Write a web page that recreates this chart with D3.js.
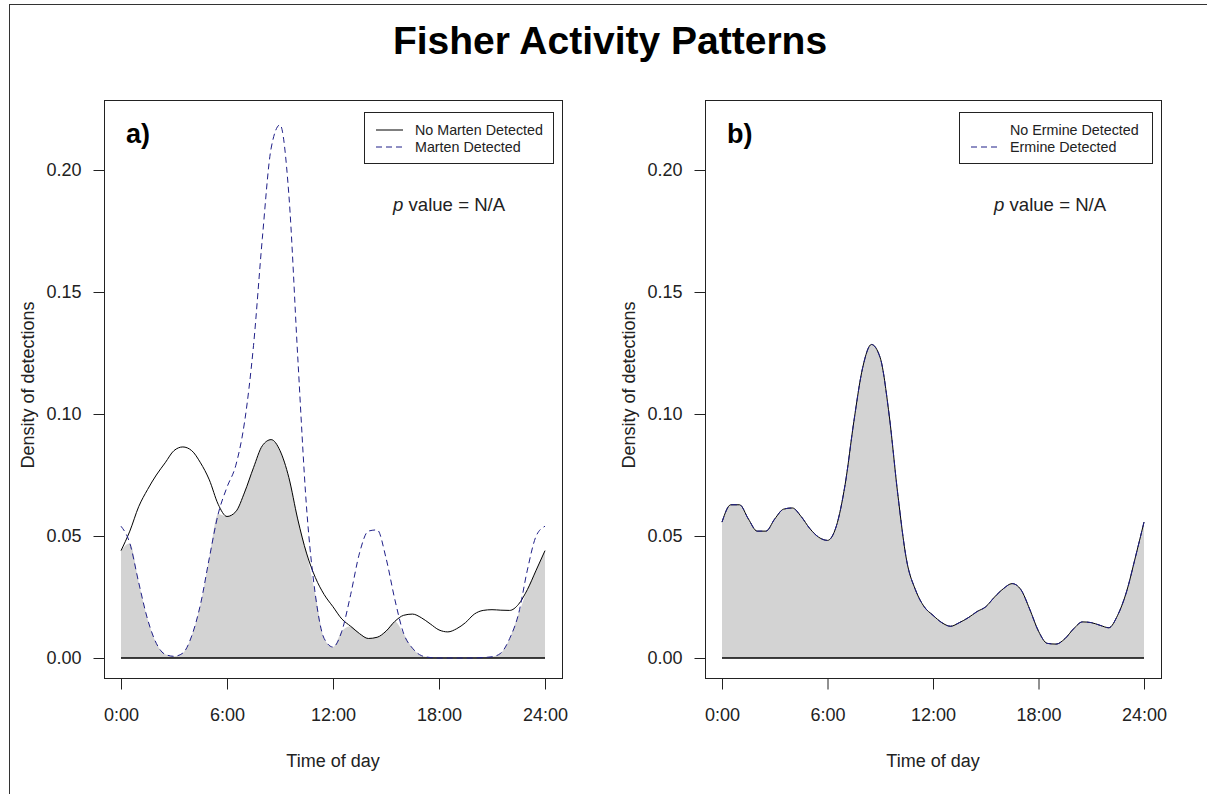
<!DOCTYPE html>
<html>
<head>
<meta charset="utf-8">
<script src="https://cdn.jsdelivr.net/npm/d3@7"></script>
<style>
  html, body { margin: 0; padding: 0; background: #fff; }
  svg { display: block; font-family: "Liberation Sans", Arial, sans-serif; }
</style>
</head>
<body>
<svg id="chart" width="1207" height="794"></svg>
<script>
// ---------- DATA ----------
const hours = d3.range(0, 24.01, 0.5);   // sample hours 0:00 .. 24:00 every 30 min
const noMarten = [0.044,0.052,0.062,0.069,0.075,0.080,0.085,0.0865,0.085,0.080,0.073,0.063,0.058,0.060,0.068,0.078,0.087,0.0895,0.085,0.074,0.057,0.043,0.033,0.026,0.021,0.016,0.013,0.010,0.008,0.0085,0.011,0.015,0.0175,0.018,0.0165,0.014,0.0115,0.0107,0.012,0.0145,0.018,0.0195,0.0198,0.0196,0.0195,0.022,0.028,0.036,0.044];
const marten = [0.054,0.047,0.031,0.016,0.006,0.0015,0.0007,0.002,0.009,0.022,0.041,0.059,0.070,0.079,0.097,0.128,0.172,0.209,0.2185,0.190,0.124,0.062,0.026,0.008,0.0045,0.011,0.026,0.043,0.052,0.0525,0.041,0.024,0.010,0.004,0.001,0.0002,0,0,0,0,0,0.0002,0.0005,0.002,0.008,0.018,0.036,0.050,0.054];
const noErmine = [0.0557,0.0628,0.0628,0.057,0.052,0.052,0.057,0.061,0.0615,0.058,0.053,0.0495,0.0482,0.054,0.071,0.097,0.119,0.1285,0.123,0.100,0.067,0.040,0.028,0.021,0.0175,0.0145,0.013,0.0145,0.0165,0.019,0.021,0.025,0.0284,0.0305,0.028,0.020,0.011,0.006,0.0057,0.0079,0.012,0.0148,0.0145,0.0134,0.0124,0.0175,0.027,0.041,0.0557];
const ermine = noErmine.slice(); // identical curve in panel b
const xTicks = [0, 6, 12, 18, 24];
const xTickLabels = ["0:00", "6:00", "12:00", "18:00", "24:00"];
const yTicks = [0, 0.05, 0.10, 0.15, 0.20];

// ---------- LAYOUT ----------
const svg = d3.select("#chart");
const FONT = "'Liberation Sans', Arial, sans-serif";
const DASH_COL = "#1f1f88";
const DASH = "6,4";

// outer frame
svg.append("rect").attr("x", 9.5).attr("y", 4.5).attr("width", 1220).attr("height", 820)
  .attr("fill", "none").attr("stroke", "#333").attr("stroke-width", 1);

svg.append("text").attr("x", 610).attr("y", 54).attr("text-anchor", "middle")
  .attr("font-family", FONT).attr("font-weight", "bold").attr("font-size", 39)
  .text("Fisher Activity Patterns");

const panels = [
  { box: [104, 562], xr: [121, 545], label: "a)", a: noMarten, b: marten,
    legend: ["No Marten Detected", "Marten Detected"], solidInLegend: true, lx: 364, ytx: 34 },
  { box: [705, 1161], xr: [722, 1144], label: "b)", a: noErmine, b: ermine,
    legend: ["No Ermine Detected", "Ermine Detected"], solidInLegend: false, lx: 959, ytx: 635 }
];

const boxTop = 100, boxBot = 678;

panels.forEach(p => {
  const g = svg.append("g");
  const x = d3.scaleLinear().domain([0, 24]).range(p.xr);
  const y = d3.scaleLinear().domain([0, 0.2]).range([658, 170]);

  const pts = hours.map((h, i) => ({ h, a: p.a[i], b: p.b[i], m: Math.min(p.a[i], p.b[i]) }));

  // overlap fill
  g.append("path").datum(pts)
    .attr("fill", "#d3d3d3").attr("stroke", "none")
    .attr("d", d3.area().curve(d3.curveMonotoneX).x(d => x(d.h)).y0(y(0)).y1(d => y(d.m)));

  // baseline
  g.append("line").attr("x1", x(0)).attr("x2", x(24)).attr("y1", y(0)).attr("y2", y(0))
    .attr("stroke", "#000").attr("stroke-width", 1.5);

  // solid line (no detection)
  g.append("path").datum(pts).attr("fill", "none").attr("stroke", "#000").attr("stroke-width", 1)
    .attr("d", d3.line().curve(d3.curveMonotoneX).x(d => x(d.h)).y(d => y(d.a)));
  // dashed line (detection)
  g.append("path").datum(pts).attr("fill", "none").attr("stroke", DASH_COL).attr("stroke-width", 1)
    .attr("stroke-dasharray", DASH)
    .attr("d", d3.line().curve(d3.curveMonotoneX).x(d => x(d.h)).y(d => y(d.b)));

  // box
  g.append("rect").attr("x", p.box[0] + 0.5).attr("y", boxTop + 0.5)
    .attr("width", p.box[1] - p.box[0]).attr("height", boxBot - boxTop)
    .attr("fill", "none").attr("stroke", "#222").attr("stroke-width", 1);

  // y axis
  const yAxis = d3.axisLeft(y).tickValues(yTicks).tickFormat(d3.format(".2f"))
    .tickSizeInner(11).tickSizeOuter(0).tickPadding(12);
  const ya = g.append("g").attr("transform", `translate(${p.box[0] + 0.5},0)`).call(yAxis);
  ya.select(".domain").remove();
  ya.selectAll("text").attr("font-family", FONT).attr("font-size", 18).attr("fill", "#222");
  ya.selectAll("line").attr("stroke", "#222");

  // x axis
  const xAxis = d3.axisBottom(x).tickValues(xTicks).tickFormat((d, i) => xTickLabels[i])
    .tickSizeInner(11).tickSizeOuter(0).tickPadding(19);
  const xa = g.append("g").attr("transform", `translate(0,${boxBot + 0.5})`).call(xAxis);
  xa.select(".domain").remove();
  xa.selectAll("text").attr("font-family", FONT).attr("font-size", 18).attr("fill", "#222");
  xa.selectAll("line").attr("stroke", "#222");

  // axis titles
  g.append("text").attr("x", (p.xr[0] + p.xr[1]) / 2).attr("y", 767).attr("text-anchor", "middle")
    .attr("font-family", FONT).attr("font-size", 18).attr("fill", "#222").text("Time of day");
  g.append("text").attr("transform", `translate(${p.ytx},385) rotate(-90)`).attr("text-anchor", "middle")
    .attr("font-family", FONT).attr("font-size", 18).attr("fill", "#222").text("Density of detections");

  // panel label
  g.append("text").attr("x", p.box[0] + 22).attr("y", 143)
    .attr("font-family", FONT).attr("font-weight", "bold").attr("font-size", 27).text(p.label);

  // p value
  const pt = g.append("text").attr("x", p.xr[0] + 272).attr("y", 211)
    .attr("font-family", FONT).attr("font-size", 18.6).attr("fill", "#222");
  pt.append("tspan").attr("font-style", "italic").text("p");
  pt.append("tspan").text(" value = N/A");

  // legend
  const lg = g.append("g").attr("transform", `translate(${p.lx},112)`);
  const lw = (p.box[1] - 9) - p.lx;
  lg.append("rect").attr("x", 0.5).attr("y", 0.5).attr("width", lw).attr("height", 51)
    .attr("fill", "#fff").attr("stroke", "#222").attr("stroke-width", 1);
  const tx = 51;
  if (p.solidInLegend) {
    lg.append("line").attr("x1", 12).attr("x2", 39).attr("y1", 18).attr("y2", 18)
      .attr("stroke", "#000").attr("stroke-width", 1);
  }
  lg.append("line").attr("x1", 12).attr("x2", 40).attr("y1", 35).attr("y2", 35)
    .attr("stroke", DASH_COL).attr("stroke-width", 1).attr("stroke-dasharray", DASH);
  p.legend.forEach((t, i) => {
    lg.append("text").attr("x", tx).attr("y", 23 + i * 17)
      .attr("font-family", FONT).attr("font-size", 14.3).attr("fill", "#222").text(t);
  });
});
</script>
</body>
</html>
